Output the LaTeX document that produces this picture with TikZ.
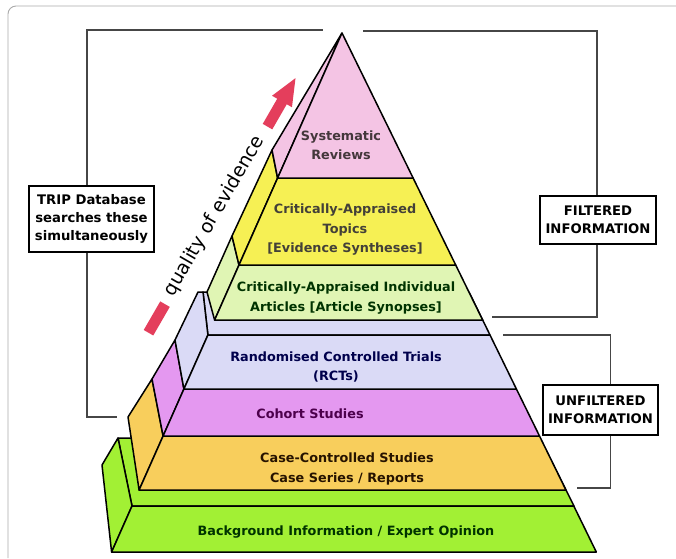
\documentclass[tikz,border=0pt]{standalone}
\usepackage{fontspec}
\setmainfont{DejaVu Sans}
\usetikzlibrary{calc}

\definecolor{pinkL}{RGB}{244,196,228}
\definecolor{yellowL}{RGB}{246,240,84}
\definecolor{greenL}{RGB}{224,245,180}
\definecolor{lavL}{RGB}{218,218,246}
\definecolor{violetL}{RGB}{228,152,240}
\definecolor{orangeL}{RGB}{248,206,92}
\definecolor{greenB}{RGB}{162,240,52}
\definecolor{arrowred}{RGB}{228,62,92}
\definecolor{linkgray}{RGB}{70,70,70}
\definecolor{framegray}{RGB}{170,170,170}

\begin{document}
\begin{tikzpicture}[x=1pt,y=-1pt,
  face/.style={draw=black, line width=1.5pt, line join=round},
  lab/.style={font=\bfseries\fontsize{12.8}{19.5}\selectfont, align=center, inner sep=0pt},
  infobox/.style={draw=black, line width=1.6pt, fill=white, align=center,
    font=\bfseries\fontsize{13.2}{18}\selectfont, inner sep=0pt},
  link/.style={draw=linkgray, line width=1.2pt}]

\useasboundingbox (0,0) rectangle (676,558);
\fill[white] (0,0) rectangle (676,558);

% outer panel frame
\draw[framegray, line width=0.9pt, rounded corners=8pt] (8,558) -- (8,6) -- (676,6);

% ---- background slab (bottom) ----
\fill[greenB, face] (132,506) -- (574,506) -- (540,438) -- (118,438) -- cycle;
\fill[greenB, face] (132,506) -- (111.6,552) -- (102,465) -- (118,438) -- cycle;
\fill[greenB, face] (132,506) -- (573.8,506) -- (596.3,552) -- (111.6,552) -- cycle;

% ---- case-controlled slab ----
\fill[orangeL, face] (163.1,436) -- (139.1,490) -- (128,417) -- (152,379) -- cycle;
\fill[orangeL, face] (163.1,436) -- (539.5,436) -- (565.9,490) -- (139.1,490) -- cycle;

% ---- cohort slab ----
\fill[violetL, face] (183.9,389) -- (163.1,436) -- (152,379) -- (175,340) -- cycle;
\fill[violetL, face] (183.9,389) -- (516.4,389) -- (539.5,436) -- (163.1,436) -- cycle;

% ---- RCT slab ----
\fill[lavL, face] (207.9,335) -- (490,335) -- (469,292) -- (203,292) -- cycle;
\fill[lavL, face] (207.9,335) -- (183.9,389) -- (175,340) -- (198,292) -- (203,292) -- cycle;
\fill[lavL, face] (207.9,335) -- (490,335) -- (516.4,389) -- (183.9,389) -- cycle;

% ---- individual articles ----
\fill[greenL, face] (214.6,320) -- (239,265) -- (232,236) -- (207,292) -- cycle;
\fill[greenL, face] (239,265) -- (455.7,265) -- (482.6,320) -- (214.6,320) -- cycle;

% ---- appraised topics ----
\fill[yellowL, face] (277.6,178) -- (239,265) -- (232,236) -- (272,150) -- cycle;
\fill[yellowL, face] (277.6,178) -- (413.1,178) -- (455.7,265) -- (239,265) -- cycle;

% ---- systematic reviews (tip) ----
\fill[pinkL, face] (342,33) -- (277.6,178) -- (272,150) -- cycle;
\fill[pinkL, face] (342,33) -- (413.1,178) -- (277.6,178) -- cycle;

% ---- level labels ----
\node[lab, text=black!85!magenta] (sr) at (341,145) {Systematic\\Reviews};
\node[lab, text=black!85!yellow] (cat) at (345,230) {Critically-Appraised\\Topics\\{[}Evidence Syntheses{]}};
\node[lab, text=black!80!green] (cai) at (346,298) {Critically-Appraised Individual\\Articles {[}Article Synopses{]}};
\node[lab, text=blue!30!black] (rct) at (336,367) {Randomised Controlled Trials\\(RCTs)};
\node[lab, text=violet!60!black] (coh) at (310,414) {Cohort Studies};
\node[lab, text=black!85!orange] (ccs) at (347,469) {Case-Controlled Studies\\Case Series / Reports};
\node[lab, text=black!80!green] (bg) at (346,532) {Background Information / Expert Opinion};

% ---- quality of evidence axis ----
\begin{scope}[shift={(157,318)}, rotate=60]
  \fill[arrowred] (-17,-5.5) rectangle (16,5.5);
  \fill[arrowred] (221,-5.5) -- (250,-5.5) -- (250,-11.5) -- (277,0)
     -- (250,11.5) -- (250,5.5) -- (221,5.5) -- cycle;
  \node[font=\fontsize{19}{21}\selectfont, anchor=base, inner sep=0pt, rotate=60]
    (qual) at (117,4) {quality of evidence};
\end{scope}

% ---- side boxes ----
\node[infobox, minimum width=125pt, minimum height=66pt] (trip) at (91.5,219)
  {TRIP Database\\searches these\\simultaneously};
\node[infobox, minimum width=116pt, minimum height=48pt] (filt) at (598,220)
  {FILTERED\\INFORMATION};
\node[infobox, minimum width=115pt, minimum height=50pt] (unf) at (600.5,410)
  {UNFILTERED\\INFORMATION};

% ---- bracket ends ----
\coordinate (topL) at (323,30);
\coordinate (topR) at (363,31);
\coordinate (filtEnd) at (492,317);
\coordinate (unfStart) at (503,335);
\coordinate (unfEnd) at (577,488);
\coordinate (tripEnd) at (117,417);

\draw[link] ([xshift=-4.5pt]trip.north) |- (topL);
\draw[link] (topR) -| ([xshift=-1pt]filt.north);
\draw[link] ([xshift=-1pt]filt.south) |- (filtEnd);
\draw[link] (unfStart) -| ([xshift=10pt]unf.north);
\draw[link] ([xshift=10pt]unf.south) |- (unfEnd);
\draw[link] ([xshift=-4.5pt]trip.south) |- (tripEnd);

\end{tikzpicture}
\end{document}
